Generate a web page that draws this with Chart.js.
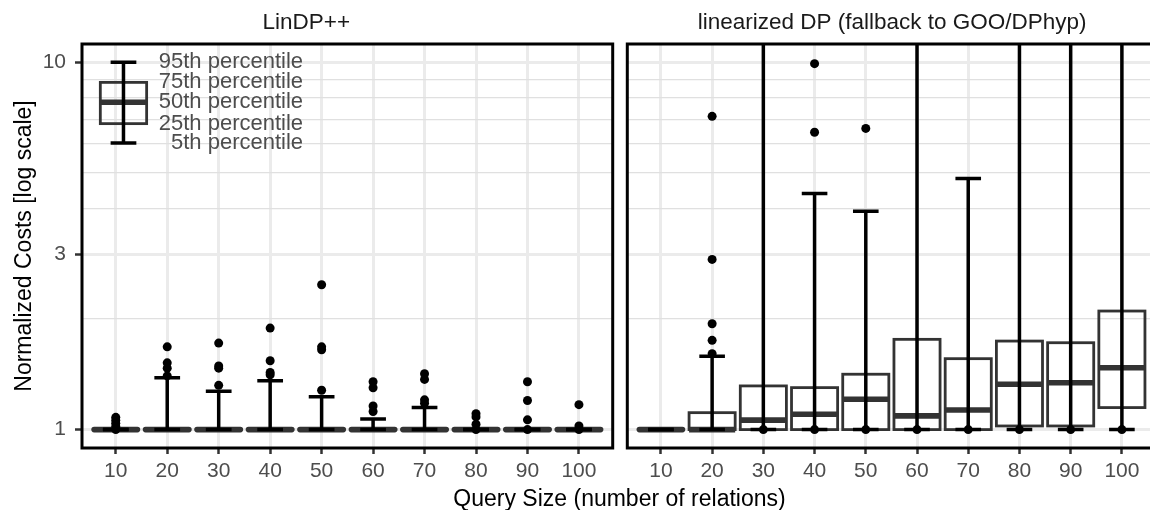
<!DOCTYPE html>
<html>
<head>
<meta charset="utf-8">
<script src="https://cdn.jsdelivr.net/npm/chart.js@4"></script>
<style>
  html, body { margin: 0; padding: 0; background: #fff; overflow: hidden; }
  #wrap { position: relative; width: 1150px; height: 510px; overflow: hidden; }
  canvas { position: absolute; top: 0; }
  #xtitle {
    position: absolute; left: 0; top: 484px; width: 1239px;
    text-align: center; white-space: nowrap; color: #000;
    font: 23px "Liberation Sans", Arial, sans-serif; line-height: 28px;
  }
</style>
</head>
<body>
<div id="wrap">
  <canvas id="left" width="620" height="510" style="left:0"></canvas>
  <canvas id="right" width="540" height="510" style="left:620px"></canvas>
  <div id="xtitle">Query Size (number of relations)</div>
</div>
<script>
const FONT = '"Liberation Sans", Arial, sans-serif';

const sizes = ['10', '20', '30', '40', '50', '60', '70', '80', '90', '100'];
const panelTitles = ['LinDP++', 'linearized DP (fallback to GOO/DPhyp)'];
const yTicks = [1, 2, 3, 4, 5, 6, 7, 8, 9, 10];
const yLabels = [1, 3, 10];

// LinDP++ percentiles
const linP05 = [1, 1, 1, 1, 1, 1, 1, 1, 1, 1];
const linP25 = [1, 1, 1, 1, 1, 1, 1, 1, 1, 1];
const linP50 = [1, 1, 1, 1, 1, 1, 1, 1, 1, 1];
const linP75 = [1, 1, 1, 1, 1, 1, 1, 1, 1, 1];
const linP95 = [1, 1.385, 1.272, 1.359, 1.229, 1.069, 1.148, 1, 1, 1];
const linOut = [
    [1.08, 1.06, 1.04, 1.02, 1.0],
    [1.68, 1.52, 1.47, 1.40],
    [1.72, 1.49, 1.47, 1.32],
    [1.89, 1.54, 1.43, 1.41],
    [2.48, 1.68, 1.65, 1.28],
    [1.35, 1.30, 1.16, 1.12],
    [1.42, 1.37, 1.205, 1.18],
    [1.105, 1.083, 1.034, 1.0],
    [1.35, 1.2, 1.063, 1.0],
    [1.169, 1.023, 1.0]
];

// linearized DP percentiles (95th above 11 runs off the panel)
const ldpP05 = [1, 1, 1, 1, 1, 1, 1, 1, 1, 1];
const ldpP25 = [1, 1, 1, 1, 1, 1, 1, 1.023, 1.023, 1.148];
const ldpP50 = [1, 1, 1.061, 1.101, 1.21, 1.09, 1.131, 1.329, 1.342, 1.474];
const ldpP75 = [1, 1.112, 1.315, 1.301, 1.415, 1.761, 1.56, 1.742, 1.724, 2.103];
const ldpP95 = [1, 1.584, 30, 4.395, 3.934, 30, 4.83, 30, 30, 30];
const ldpOut = [
    [],
    [7.13, 2.907, 1.942, 1.75, 1.61],
    [1],
    [9.92, 6.45, 1],
    [6.61, 1],
    [1],
    [1],
    [1],
    [1],
    [1]
];

// the drawn key in the left panel
const keyX = 1.15;
const keyTextX = 4.64;
const keyStats = [6.03, 6.81, 7.79, 8.82, 10];
const keyLabels = ['5th percentile', '25th percentile', '50th percentile', '75th percentile', '95th percentile'];

const toStats = (p05, p25, p50, p75, p95) =>
    p05.map((v, i) => ({ x: i + 1, p05: v, p25: p25[i], p50: p50[i], p75: p75[i], p95: p95[i] }));

const toPoints = (out) => {
    const pts = [];
    out.forEach((vals, i) => vals.forEach(v => pts.push({ x: i + 1, y: v })));
    return pts;
};

const line = (ctx, x1, y1, x2, y2) => {
    ctx.beginPath();
    ctx.moveTo(x1, y1);
    ctx.lineTo(x2, y2);
    ctx.stroke();
};

const drawBox = (ctx, xs, ys, s) => {
    const unit = xs.getPixelForValue(2) - xs.getPixelForValue(1);
    const cx = xs.getPixelForValue(s.x);
    const half = unit * 0.45;
    const cap = unit * 0.25;
    const y05 = ys.getPixelForValue(s.p05);
    const y25 = ys.getPixelForValue(s.p25);
    const y50 = ys.getPixelForValue(s.p50);
    const y75 = ys.getPixelForValue(s.p75);
    const y95 = ys.getPixelForValue(s.p95);
    const flat = s.p25 === s.p75;

    ctx.strokeStyle = '#333333';
    ctx.lineWidth = 2.8;
    ctx.lineJoin = 'miter';
    ctx.lineCap = 'butt';
    if (!flat) ctx.strokeRect(cx - half, y75, half * 2, y25 - y75);
    ctx.lineWidth = 5.6;
    if (flat) {
        ctx.lineCap = 'round';
        line(ctx, cx - half + 1.5, y50, cx + half - 1.5, y50);
    } else {
        line(ctx, cx - half, y50, cx + half, y50);
    }

    ctx.strokeStyle = '#000';
    ctx.lineWidth = 3.5;
    ctx.lineCap = 'butt';
    if (y95 !== y05) line(ctx, cx, y05, cx, y95);
    line(ctx, cx - cap, y05, cx + cap, y05);
    line(ctx, cx - cap, y95, cx + cap, y95);
};

const boxPlugin = {
    id: 'boxes',
    beforeDatasetsDraw(chart, args, opts) {
        const { ctx, chartArea: a, scales } = chart;
        ctx.save();
        ctx.beginPath();
        ctx.rect(a.left, a.top, a.right - a.left, a.bottom - a.top);
        ctx.clip();
        opts.stats.forEach(s => drawBox(ctx, scales.x, scales.y, s));
        if (opts.key) {
            drawBox(ctx, scales.x, scales.y, {
                x: keyX, p05: keyStats[0], p25: keyStats[1], p50: keyStats[2], p75: keyStats[3], p95: keyStats[4]
            });
            ctx.fillStyle = '#4D4D4D';
            ctx.font = '22px ' + FONT;
            ctx.textAlign = 'right';
            ctx.textBaseline = 'middle';
            const tx = scales.x.getPixelForValue(keyTextX);
            keyLabels.forEach((t, i) => ctx.fillText(t, tx, scales.y.getPixelForValue(keyStats[i])));
        }
        ctx.restore();
    }
};

const borderPlugin = {
    id: 'panelBorder',
    afterDraw(chart) {
        const { ctx, chartArea: a } = chart;
        ctx.save();
        ctx.strokeStyle = '#000';
        ctx.lineWidth = 3;
        ctx.strokeRect(a.left, a.top, a.right - a.left, a.bottom - a.top);
        ctx.restore();
    }
};

const isMajor = v => yLabels.includes(v);

const makeChart = (id, title, stats, outliers, isLeft) => {
    const yAxis = {
        type: 'logarithmic',
        min: 0.891,
        max: 11.22,
        afterBuildTicks: s => { s.ticks = yTicks.map(v => ({ value: v })); },
        border: { display: false },
        grid: {
            color: c => isMajor(c.tick.value) ? '#EBEBEB' : '#E0E0E0',
            lineWidth: c => isMajor(c.tick.value) ? 3 : 1.3,
            drawTicks: isLeft,
            tickLength: 7,
            tickWidth: 2.5,
            tickColor: c => isMajor(c.tick.value) ? '#333333' : 'rgba(0,0,0,0)'
        },
        ticks: {
            display: isLeft,
            padding: 9,
            color: '#4D4D4D',
            font: { family: FONT, size: 21 },
            callback: v => isMajor(v) ? String(v) : ''
        },
        title: {
            display: isLeft,
            text: 'Normalized Costs [log scale]',
            color: '#000',
            font: { family: FONT, size: 23 },
            padding: { top: 11, bottom: 0 }
        },
        afterFit: s => { s.width = isLeft ? 82 : 0; }
    };

    return new Chart(document.getElementById(id), {
        type: 'scatter',
        data: {
            datasets: [{
                data: toPoints(outliers),
                pointRadius: 4.5,
                pointBackgroundColor: '#000',
                pointBorderWidth: 0
            }]
        },
        options: {
            responsive: false,
            animation: false,
            events: [],
            devicePixelRatio: 1,
            layout: { padding: isLeft ? { left: 0, right: 7.3, top: 0, bottom: 0 } : { left: 7.3, right: 3, top: 0, bottom: 0 } },
            plugins: {
                legend: { display: false },
                tooltip: { enabled: false },
                title: {
                    display: true,
                    text: title,
                    color: '#1A1A1A',
                    font: { family: FONT, size: 22.5, weight: 'normal' },
                    padding: { top: 9.5, bottom: 7.5 }
                },
                boxes: { stats: stats, key: isLeft }
            },
            scales: {
                x: {
                    type: 'linear',
                    min: 0.344,
                    max: 10.656,
                    afterBuildTicks: s => { s.ticks = sizes.map((_, i) => ({ value: i + 1 })); },
                    afterFit: s => { s.height = 62; },
                    border: { display: false },
                    grid: { color: '#EBEBEB', lineWidth: 3, tickColor: '#333333', tickWidth: 2.5, tickLength: 6 },
                    ticks: {
                        autoSkip: false,
                        maxRotation: 0,
                        padding: 5,
                        color: '#4D4D4D',
                        font: { family: FONT, size: 21 },
                        callback: v => sizes[v - 1]
                    }
                },
                y: yAxis
            }
        },
        plugins: [boxPlugin, borderPlugin]
    });
};

makeChart('left', panelTitles[0], toStats(linP05, linP25, linP50, linP75, linP95), linOut, true);
makeChart('right', panelTitles[1], toStats(ldpP05, ldpP25, ldpP50, ldpP75, ldpP95), ldpOut, false);
</script>
</body>
</html>
